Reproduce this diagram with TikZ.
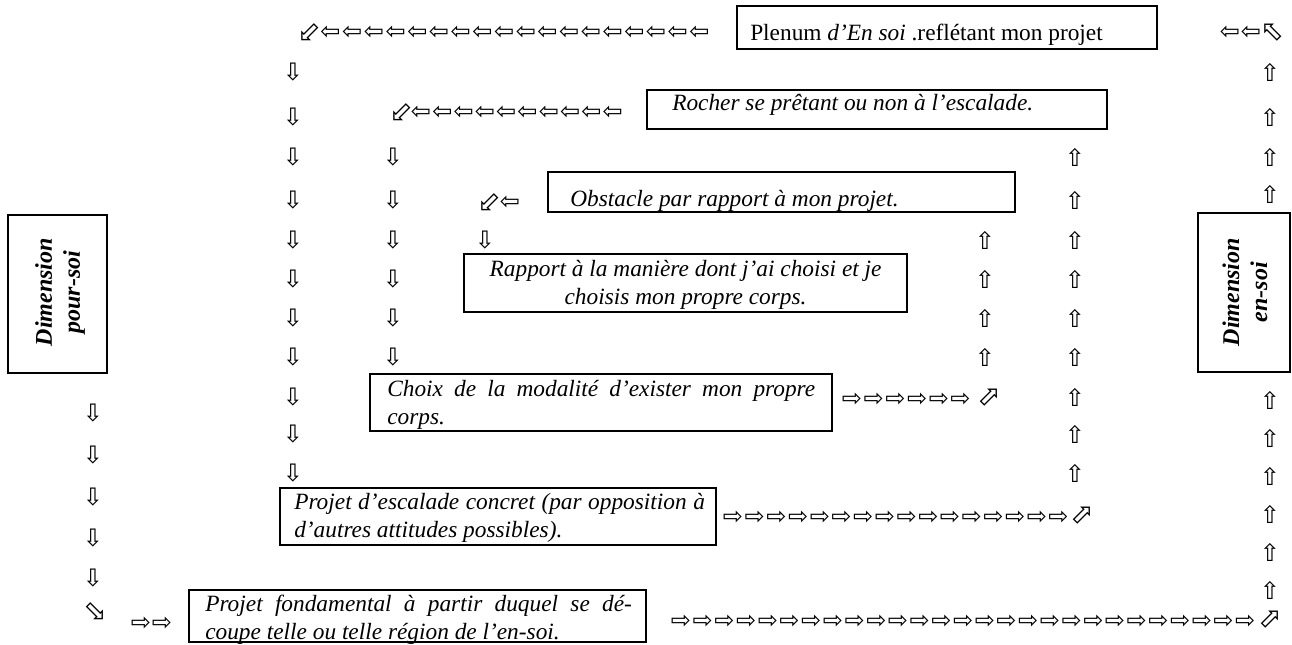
\documentclass[tikz,border=0pt]{standalone}
\usepackage{fontspec}
\setmainfont{Liberation Serif}
\newfontfamily\arrfont{DejaVu Sans}
\usetikzlibrary{fit}
\begin{document}
\begin{tikzpicture}[x=0.75pt,y=-0.75pt,
 box/.style={draw,line width=1.4pt,inner sep=0pt},
 ar/.style={font=\arrfont\fontsize{18}{18}\selectfont,inner sep=0pt},
 cr/.style={font=\arrfont\fontsize{21}{21}\selectfont,inner sep=0pt},
 tx/.style={font=\fontsize{17.5}{21}\selectfont,inner sep=0pt,anchor=base west},
 dim/.style={font=\fontsize{18}{21}\selectfont\bfseries\itshape,inner sep=0pt,rotate=90,align=center}]
\useasboundingbox (0,0) rectangle (1292,644);

% ---- top row
\node[cr] (tc) at (309,33) {⬃};
\foreach \i in {0,...,17} \node[ar] (ta\i) at ({330.5+21.7*\i},33) {⇦};
\node[box,fit={(737,6)(1157,49)}] (plenum) {};
\node[tx] (plenumT) at (750,40) {Plenum \textit{d’En soi} .reflétant mon projet};
\node[ar] (tr1) at (1230,33) {⇦};
\node[ar] (tr2) at (1251,33) {⇦};
\node[cr] (trc) at (1272,33) {⬁};

% ---- column A
\foreach [count=\k] \yy in {72,117,157,200,240,279,318,357,397,434,473}
  \node[ar] (A\k) at (293,\yy) {⇩};

% ---- row 2
\node[cr] (c2) at (401,113) {⬃};
\foreach \i in {0,...,9} \node[ar] (ra\i) at ({421+21.3*\i},113) {⇦};
\node[box,fit={(647,90)(1107,129)}] (rocher) {};
\node[tx] (rocherT) at (672,110) {\itshape Rocher se prêtant ou non à l’escalade.};

% ---- column B
\foreach [count=\k] \yy in {157,200,240,279,318,357}
  \node[ar] (B\k) at (393,\yy) {⇩};

% ---- row 3
\node[cr] (c3) at (489,203) {⬃};
\node[ar] (rb) at (510,203) {⇦};
\node[box,fit={(548,172)(1015,212)}] (obst) {};
\node[tx] (obstT) at (570,206) {\itshape Obstacle par rapport à mon projet.};

% ---- column C
\node[ar] (C1) at (485,240) {⇩};

% ---- Rapport
\node[box,fit={(464,254)(907,312)}] (rapp) {};
\node[tx] (rappT) at (470,276) {\parbox[t]{323pt}{\centering\itshape Rapport à la manière dont j’ai choisi et je\\ choisis mon propre corps.}};

% ---- column D
\foreach [count=\k] \yy in {240,279,318,357}
  \node[ar] (D\k) at (985,\yy) {⇧};

% ---- Choix
\node[box,fit={(370,374)(832,431)}] (choix) {};
\node[tx] (choixT) at (387,396) {\parbox[t]{321pt}{\itshape\makebox[321pt][s]{Choix de la modalité d’exister mon propre}\\ corps.}};
\foreach \i in {0,...,5} \node[ar] (rc\i) at ({852+21.7*\i},400) {⇨};
\node[cr] (c4) at (989,398) {⬀};

% ---- column E
\foreach [count=\k] \yy in {157,200,240,279,318,357,397,434,473}
  \node[ar] (E\k) at (1075,\yy) {⇧};

% ---- Projet d'escalade
\node[box,fit={(280,488)(716,545)}] (esc) {};
\node[tx] (escT) at (294,509) {\parbox[t]{308pt}{\itshape\makebox[308pt][s]{Projet d’escalade concret (par opposition à}\\ d’autres attitudes possibles).}};
\foreach \i in {0,...,15} \node[ar] (rd\i) at ({733+21.7*\i},518) {⇨};
\node[cr] (c5) at (1082,516) {⬀};

% ---- column F
\foreach [count=\k] \yy in {72,117,157,194,400,438,476,514,552,590}
  \node[ar] (F\k) at (1270,\yy) {⇧};

% ---- Dimension boxes
\node[box,fit={(8,215)(107,373)}] (pour) {};
\node[dim] (pourT) at (60,292) {Dimension\\pour-soi};
\node[box,fit={(1198,213)(1290,372)}] (ensoi) {};
\node[dim] (ensoiT) at (1245,292) {Dimension\\en-soi};

% ---- left column
\foreach [count=\k] \yy in {413,455,497,538,578}
  \node[ar] (L\k) at (93,\yy) {⇩};
\node[cr] (c6) at (95,612) {⬂};
\node[ar] (le1) at (141,624) {⇨};
\node[ar] (le2) at (162,624) {⇨};

% ---- Projet fondamental
\node[box,fit={(189,590)(646,642)}] (fond) {};
\node[tx] (fondT) at (205,611) {\parbox[t]{320pt}{\itshape\makebox[320pt][s]{Projet fondamental à partir duquel se dé-}\\ coupe telle ou telle région de l’en-soi.}};
\foreach \i in {0,...,26} \node[ar] (re\i) at ({681+21.7*\i},622) {⇨};
\node[cr] (c7) at (1270,620) {⬀};
\end{tikzpicture}
\end{document}
